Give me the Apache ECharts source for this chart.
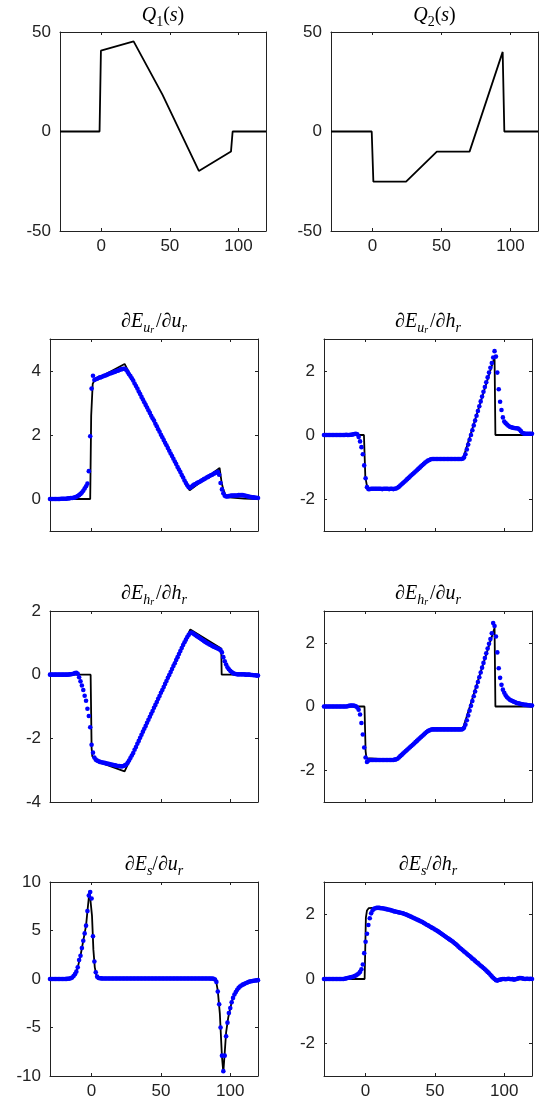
<!DOCTYPE html>
<html><head><meta charset="utf-8">
<script src="https://cdn.jsdelivr.net/npm/echarts@6/dist/echarts.min.js"></script>
<style>html,body{margin:0;padding:0;background:#fff}#c{width:543px;height:1105px}</style>
</head><body><div id="c"></div>
<script>
// shared s-grid of the blue sample dots
const sGrid = [
-30,-29,-28,-27,-26,-25,-24,-23,-22,-21,
-20,-19,-18,-17,-16,-15,-14,-13,-12,-11,
-10,-9,-8,-7,-6,-5,-4,-3,-2,-1,
0,1,2,3,4,5,6,7,8,9,
10,11,12,13,14,15,16,17,18,19,
20,21,22,23,24,25,26,27,28,29,
30,31,32,33,34,35,36,37,38,39,
40,41,42,43,44,45,46,47,48,49,
50,51,52,53,54,55,56,57,58,59,
60,61,62,63,64,65,66,67,68,69,
70,71,72,73,74,75,76,77,78,79,
80,81,82,83,84,85,86,87,88,89,
90,91,92,93,94,95,96,97,98,99,
100,101,102,103,104,105,106,107,108,109,
110,111,112,113,114,115,116,117,118,119,
120];

const xTicks = [0, 50, 100];

// Q1(s), Q2(s) black lines
const q1X = [-30,-1.2,-0.2,23.6,44.6,71.1,94.5,95.7,120];
const q1Y = [0,0,40.6,45.3,18.5,-19.8,-10.1,0,0];
const q2X = [-30,-0.5,0.7,24.4,46.7,70.4,94.4,95.6,120];
const q2Y = [0,0,-25.2,-25.2,-10.1,-10.1,40,0,0];

// dEur/dur
const eurUrX = [-30,-1,-0.3,0.8,2.2,23.8,70.7,92.3,93.8,95,96.3,99,110,120];
const eurUrY = [0,0,2.6,3.6,3.72,4.22,0.27,0.97,0.5,0.3,0.14,0.05,0.01,0];
const eurUrDots = [
0,0,0,0,0,0,0,0,0.01,0.01,
0.01,0.01,0.01,0.02,0.02,0.03,0.03,0.04,0.05,0.07,
0.09,0.12,0.16,0.2,0.26,0.33,0.4,0.48,0.87,1.96,
3.45,3.85,3.72,3.74,3.76,3.78,3.8,3.81,3.83,3.85,
3.86,3.88,3.9,3.92,3.93,3.95,3.96,3.98,4.0,4.01,
4.03,4.05,4.06,4.07,4.07,4.03,3.97,3.9,3.84,3.77,
3.7,3.61,3.53,3.45,3.36,3.28,3.19,3.11,3.02,2.94,
2.86,2.77,2.69,2.6,2.52,2.45,2.35,2.27,2.18,2.1,
2.01,1.93,1.84,1.76,1.68,1.59,1.51,1.42,1.34,1.26,
1.17,1.09,1.0,0.92,0.84,0.75,0.67,0.58,0.5,0.43,
0.37,0.35,0.38,0.42,0.45,0.47,0.5,0.52,0.54,0.57,
0.59,0.62,0.64,0.67,0.69,0.72,0.74,0.76,0.79,0.81,
0.83,0.85,0.76,0.5,0.3,0.18,0.1,0.08,0.08,0.09,
0.1,0.11,0.11,0.11,0.11,0.11,0.12,0.12,0.12,0.12,
0.11,0.1,0.09,0.08,0.07,0.06,0.05,0.05,0.04,0.04,
0.03];

// dEur/dhr
const eurHrX = [-30,-1.2,-0.2,0.8,2.2,22,47,70.2,93,93.6,120];
const eurHrY = [0,0,-1.3,-1.55,-1.66,-1.68,-0.75,-0.75,2.44,0,0];
const eurHrDots = [
0,0,0,0,0,0,0,0,0,0,
0,0,0,0,0,0,0.01,0,0,0.01,
0.01,0.02,0.03,0.04,0.02,-0.06,-0.2,-0.38,-0.6,-0.95,
-1.35,-1.63,-1.69,-1.69,-1.68,-1.68,-1.68,-1.68,-1.68,-1.68,
-1.68,-1.68,-1.69,-1.68,-1.68,-1.68,-1.68,-1.69,-1.68,-1.68,
-1.69,-1.68,-1.67,-1.65,-1.62,-1.58,-1.54,-1.5,-1.46,-1.42,
-1.38,-1.34,-1.3,-1.26,-1.22,-1.18,-1.14,-1.1,-1.06,-1.02,
-0.98,-0.94,-0.9,-0.86,-0.83,-0.8,-0.78,-0.76,-0.75,-0.75,
-0.75,-0.75,-0.75,-0.75,-0.75,-0.75,-0.75,-0.75,-0.75,-0.75,
-0.75,-0.75,-0.75,-0.75,-0.75,-0.75,-0.75,-0.75,-0.75,-0.75,
-0.74,-0.7,-0.6,-0.45,-0.3,-0.15,0,0.15,0.3,0.45,
0.6,0.75,0.9,1.05,1.2,1.35,1.5,1.65,1.8,1.95,
2.1,2.25,2.42,2.62,2.45,1.95,1.43,1.04,0.78,0.55,
0.42,0.37,0.33,0.29,0.26,0.24,0.23,0.22,0.21,0.21,
0.2,0.17,0.12,0.07,0.05,0.04,0.04,0.04,0.04,0.04,
0.04];

// dEhr/dhr
const ehrHrX = [-30,-0.7,0,0.5,3.4,23.8,71.2,93.5,93.8,120];
const ehrHrY = [0,0,-2.3,-2.56,-2.72,-3.04,1.42,0.82,0,0];
const ehrHrDots = [
0,0,0,0,0,0,0,0,0,0,
0,0,0,0,0.01,0.01,0.02,0.03,0.05,0.06,
0.03,-0.08,-0.21,-0.34,-0.48,-0.66,-0.82,-1.07,-1.3,-1.65,
-2.2,-2.45,-2.6,-2.67,-2.7,-2.72,-2.74,-2.75,-2.76,-2.77,
-2.78,-2.79,-2.8,-2.81,-2.82,-2.83,-2.84,-2.85,-2.86,-2.87,
-2.87,-2.88,-2.88,-2.87,-2.85,-2.82,-2.77,-2.7,-2.62,-2.54,
-2.46,-2.36,-2.27,-2.17,-2.08,-1.98,-1.89,-1.79,-1.7,-1.61,
-1.51,-1.42,-1.32,-1.23,-1.14,-1.04,-0.95,-0.86,-0.76,-0.67,
-0.57,-0.48,-0.39,-0.29,-0.2,-0.1,-0.01,0.08,0.18,0.27,
0.36,0.46,0.55,0.65,0.74,0.84,0.93,1.02,1.1,1.18,
1.25,1.3,1.32,1.3,1.27,1.24,1.21,1.18,1.15,1.12,
1.09,1.06,1.03,1.0,0.98,0.95,0.93,0.9,0.88,0.86,
0.84,0.82,0.8,0.77,0.7,0.55,0.42,0.32,0.23,0.17,
0.12,0.08,0.05,0.03,0.02,0.01,0.01,0.01,0.01,0.01,
0.01,0,0,0,0,-0.01,-0.01,-0.02,-0.02,-0.03,
-0.03];

// dEhr/dur
const ehrUrX = [-30,-0.8,0,0.6,2,22,47,70,93,93.6,120];
const ehrUrY = [0,0,-1.4,-1.62,-1.68,-1.68,-0.72,-0.72,2.47,0,0];
const ehrUrDots = [
0,0,0,0,0,0,0,0,0,0,
0,0,0,0,0,0,0,0.01,0.02,0.03,
0.03,0.03,0.02,0.01,-0.03,-0.1,-0.25,-0.52,-0.88,-1.29,
-1.6,-1.74,-1.7,-1.68,-1.68,-1.68,-1.68,-1.68,-1.68,-1.68,
-1.68,-1.68,-1.68,-1.68,-1.68,-1.68,-1.68,-1.68,-1.68,-1.68,
-1.68,-1.67,-1.66,-1.64,-1.6,-1.56,-1.52,-1.48,-1.44,-1.4,
-1.36,-1.32,-1.28,-1.24,-1.2,-1.16,-1.12,-1.08,-1.04,-1.0,
-0.96,-0.92,-0.88,-0.84,-0.8,-0.77,-0.75,-0.73,-0.72,-0.72,
-0.72,-0.72,-0.72,-0.72,-0.72,-0.72,-0.72,-0.72,-0.72,-0.72,
-0.72,-0.72,-0.72,-0.72,-0.72,-0.72,-0.72,-0.72,-0.72,-0.72,
-0.71,-0.67,-0.57,-0.43,-0.28,-0.13,0.02,0.17,0.32,0.47,
0.62,0.77,0.92,1.07,1.22,1.37,1.52,1.67,1.82,1.97,
2.12,2.3,2.62,2.53,2.2,1.7,1.2,0.9,0.68,0.53,
0.43,0.35,0.29,0.25,0.21,0.19,0.17,0.15,0.13,0.11,
0.1,0.09,0.08,0.07,0.06,0.05,0.05,0.04,0.04,0.03,
0.03];

// dEs/dur
const esUrX = [-30,-16,-14,-12,-10,-8,-6,-4,-3,-1.5,-0.8,0.3,1.3,2.3,3.5,5,88,89.5,91,92.5,94,95,96,97,98.5,100,102,106,110,115,120];
const esUrY = [0,0,0.15,0.5,1.2,2.4,3.95,5.5,7.0,9.1,9.0,6.5,3.0,1.2,0.35,0.06,0.05,0,-1.2,-3.6,-8.0,-9.6,-7.6,-5.5,-4.0,-3.0,-1.9,-0.85,-0.5,-0.25,-0.12];
const esUrDots = [
0,0,0,0,0,0,0,0,0,0,
0,0,0.01,0.02,0.04,0.08,0.16,0.31,0.5,0.76,
1.2,1.95,2.4,3.2,3.95,4.7,5.5,7.0,8.6,8.97,
8.3,4.4,1.8,0.7,0.24,0.1,0.07,0.06,0.05,0.05,
0.05,0.05,0.05,0.05,0.05,0.05,0.05,0.05,0.05,0.05,
0.05,0.05,0.05,0.05,0.05,0.05,0.05,0.05,0.05,0.05,
0.05,0.05,0.05,0.05,0.05,0.05,0.05,0.05,0.05,0.05,
0.05,0.05,0.05,0.05,0.05,0.05,0.05,0.05,0.05,0.05,
0.05,0.05,0.05,0.05,0.05,0.05,0.05,0.05,0.05,0.05,
0.05,0.05,0.05,0.05,0.05,0.05,0.05,0.05,0.05,0.05,
0.05,0.05,0.05,0.05,0.05,0.05,0.05,0.05,0.05,0.05,
0.05,0.05,0.05,0.05,0.05,0.05,0.04,0.04,0.03,-0.05,
-0.3,-1.3,-2.6,-5.0,-7.9,-9.5,-7.9,-5.9,-4.5,-3.5,
-3.0,-2.4,-1.95,-1.6,-1.35,-1.12,-0.92,-0.78,-0.67,-0.58,
-0.51,-0.44,-0.38,-0.31,-0.27,-0.23,-0.21,-0.18,-0.16,-0.14,
-0.12];

// dEs/dhr
const esHrX = [-30,-0.7,0.2,1,2.2,5,8,15,27,39,51,63,75,85,93,95,120];
const esHrY = [0,0,1.9,2.12,2.19,2.2,2.2,2.16,2.03,1.8,1.51,1.15,0.71,0.34,0,-0.03,0];
const esHrDots = [
0,0,0,0,0,0,0,0,0,0,
0,0,0,0,0,0.01,0.02,0.03,0.04,0.05,
0.06,0.07,0.09,0.11,0.14,0.17,0.22,0.3,0.45,0.8,
1.15,1.4,1.67,1.88,2.03,2.12,2.17,2.19,2.2,2.2,
2.2,2.19,2.19,2.18,2.17,2.16,2.15,2.14,2.13,2.12,
2.1,2.09,2.08,2.07,2.06,2.05,2.04,2.03,2.01,2.0,
1.98,1.96,1.94,1.92,1.9,1.88,1.86,1.84,1.82,1.8,
1.78,1.76,1.73,1.71,1.68,1.66,1.63,1.61,1.58,1.56,
1.53,1.51,1.48,1.45,1.42,1.39,1.36,1.33,1.3,1.27,
1.24,1.21,1.18,1.15,1.11,1.08,1.04,1.0,0.96,0.93,
0.89,0.85,0.82,0.78,0.74,0.71,0.67,0.63,0.6,0.56,
0.52,0.49,0.45,0.41,0.38,0.34,0.3,0.26,0.22,0.18,
0.13,0.08,0.04,0.0,-0.04,-0.05,-0.03,-0.02,-0.01,0.0,
0,-0.01,0,0.01,0,-0.01,0,-0.02,-0.01,0,
0.02,0.03,0.03,0.02,0.01,0,0.01,0.01,0,0.01,
0];

const titles = [
  '{it|Q}{subrm|1}{rm|(}{it|s}{rm|)}',
  '{it|Q}{subrm|2}{rm|(}{it|s}{rm|)}',
  '{rm|∂}{it|E}{sub|u}{subsub|r}{rm|/∂}{it|u}{sub|r}',
  '{rm|∂}{it|E}{sub|u}{subsub|r}{rm|/∂}{it|h}{sub|r}',
  '{rm|∂}{it|E}{sub|h}{subsub|r}{rm|/∂}{it|h}{sub|r}',
  '{rm|∂}{it|E}{sub|h}{subsub|r}{rm|/∂}{it|u}{sub|r}',
  '{rm|∂}{it|E}{sub|s}{rm|/∂}{it|u}{sub|r}',
  '{rm|∂}{it|E}{sub|s}{rm|/∂}{it|h}{sub|r}'
];

const panels = [
  {lx:q1X, ly:q1Y, dots:null, yMin:-50, yMax:50, yTicks:[-50,0,50], xl:true, g:{left:60, top:32, width:206, height:199}, ty:16},
  {lx:q2X, ly:q2Y, dots:null, yMin:-50, yMax:50, yTicks:[-50,0,50], xl:true, g:{left:331, top:32, width:207, height:199}, ty:16},
  {lx:eurUrX, ly:eurUrY, dots:eurUrDots, yMin:-1, yMax:5, yTicks:[0,2,4], xl:false, g:{left:50, top:339, width:208, height:192}, ty:322},
  {lx:eurHrX, ly:eurHrY, dots:eurHrDots, yMin:-3, yMax:3, yTicks:[-2,0,2], xl:false, g:{left:324, top:339, width:208, height:192}, ty:322},
  {lx:ehrHrX, ly:ehrHrY, dots:ehrHrDots, yMin:-4, yMax:2, yTicks:[-4,-2,0,2], xl:false, g:{left:50, top:611, width:208, height:191}, ty:594},
  {lx:ehrUrX, ly:ehrUrY, dots:ehrUrDots, yMin:-3, yMax:3, yTicks:[-2,0,2], xl:false, g:{left:324, top:611, width:208, height:191}, ty:594},
  {lx:esUrX, ly:esUrY, dots:esUrDots, yMin:-10, yMax:10, yTicks:[-10,-5,0,5,10], xl:true, g:{left:50, top:882, width:208, height:194}, ty:865},
  {lx:esHrX, ly:esHrY, dots:esHrDots, yMin:-3, yMax:3, yTicks:[-2,0,2], xl:true, g:{left:324, top:882, width:208, height:194}, ty:865}
];

const axisColor = '#222';
const labelFont = {fontFamily:'Liberation Sans, Arial, sans-serif', fontSize:17, color:'#222'};
const serif = 'Liberation Serif, Times New Roman, serif';
const rich = {
  it:{fontFamily:serif, fontStyle:'italic', fontSize:20, lineHeight:26, color:'#000'},
  rm:{fontFamily:serif, fontSize:20, lineHeight:26, color:'#000'},
  sub:{fontFamily:serif, fontStyle:'italic', fontSize:14, lineHeight:14, verticalAlign:'bottom', color:'#000'},
  subrm:{fontFamily:serif, fontSize:14, lineHeight:14, verticalAlign:'bottom', color:'#000'},
  subsub:{fontFamily:serif, fontStyle:'italic', fontSize:10, lineHeight:6, verticalAlign:'bottom', padding:[0,2,0,0], color:'#000'}
};

const grid = [], xAxis = [], yAxis = [], series = [], graphic = [];
panels.forEach((p, i) => {
  grid.push(Object.assign({containLabel:false}, p.g));
  const line = {show:true, onZero:false, lineStyle:{color:axisColor, width:1}};
  const tickX = {show:true, inside:true, length:3, customValues:xTicks, lineStyle:{color:axisColor}};
  const tickY = {show:true, inside:true, length:3, customValues:p.yTicks, lineStyle:{color:axisColor}};
  xAxis.push({type:'value', gridIndex:i, position:'bottom', min:-30, max:120, axisLine:line, axisTick:tickX,
    axisLabel:Object.assign({show:p.xl, customValues:xTicks, margin:7}, labelFont), splitLine:{show:false}});
  xAxis.push({type:'value', gridIndex:i, position:'top', min:-30, max:120, axisLine:line, axisTick:tickX,
    axisLabel:{show:false}, splitLine:{show:false}});
  yAxis.push({type:'value', gridIndex:i, position:'left', min:p.yMin, max:p.yMax, axisLine:line, axisTick:tickY,
    axisLabel:Object.assign({show:true, customValues:p.yTicks, margin:9}, labelFont), splitLine:{show:false}});
  yAxis.push({type:'value', gridIndex:i, position:'right', min:p.yMin, max:p.yMax, axisLine:line, axisTick:tickY,
    axisLabel:{show:false}, splitLine:{show:false}});
  series.push({type:'line', xAxisIndex:2*i, yAxisIndex:2*i, data:p.lx.map((x,k)=>[x,p.ly[k]]),
    symbol:'none', lineStyle:{color:'#000', width:1.8}, z:2, silent:true});
  if (p.dots) {
    series.push({type:'scatter', xAxisIndex:2*i, yAxisIndex:2*i, data:sGrid.map((s,k)=>[s,p.dots[k]]),
      symbolSize:4.6, itemStyle:{color:'#0000ff', opacity:1}, z:3, silent:true});
  }
  graphic.push({type:'text', x:p.g.left + p.g.width/2, y:p.ty,
    style:{text:titles[i], rich:rich, align:'center', verticalAlign:'middle'}});
});

const chart = echarts.init(document.getElementById('c'), null, {renderer:'canvas'});
chart.setOption({backgroundColor:'#fff', animation:false, grid, xAxis, yAxis, series, graphic});
</script></body></html>
